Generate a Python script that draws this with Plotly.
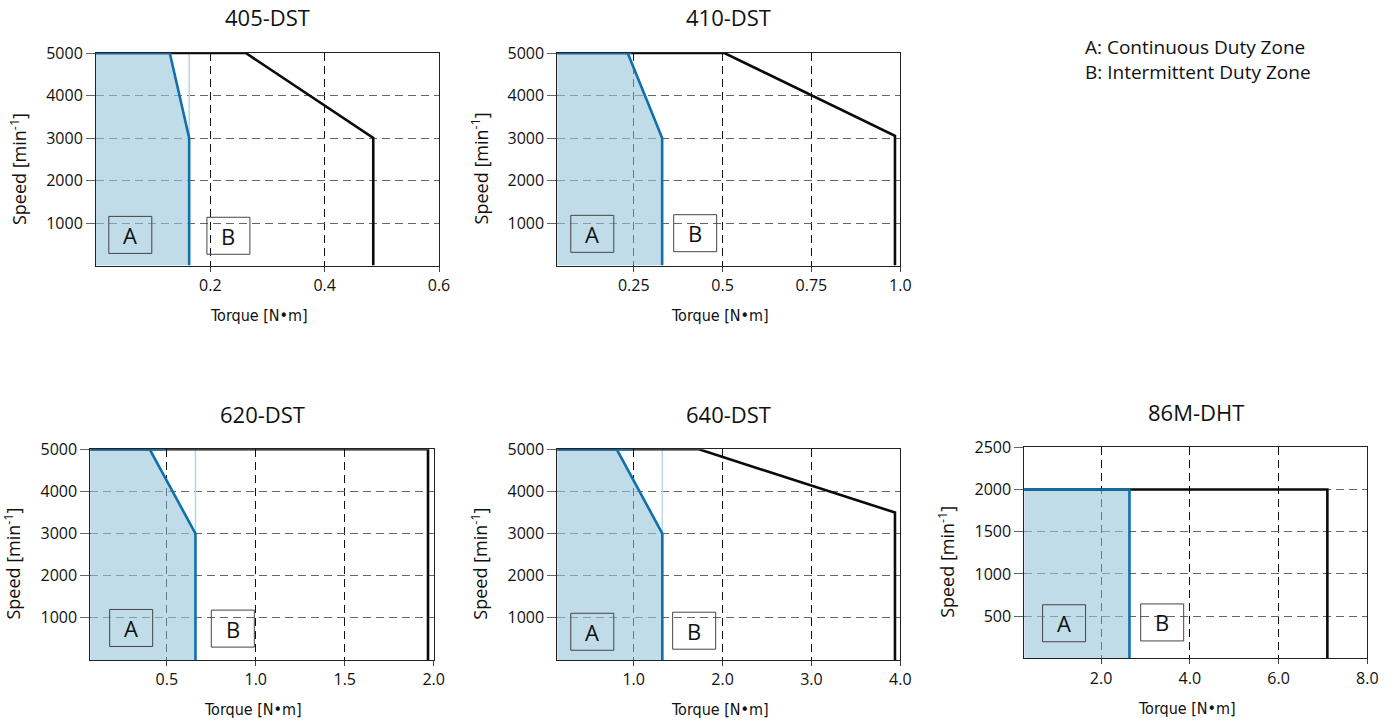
import plotly.graph_objects as go

# ---------------- data ----------------
titles = ["405-DST", "410-DST", "620-DST", "640-DST", "86M-DHT"]

x_ranges = [[0, 0.6], [0.035, 1.0], [0.07, 2.0], [0.14, 4.0], [0.27, 8.0]]
y_ranges = [[0, 5000], [0, 5000], [0, 5000], [0, 5000], [0, 2500]]

x_tickvals = [[0.2, 0.4, 0.6], [0.25, 0.5, 0.75, 1.0], [0.5, 1.0, 1.5, 2.0],
              [1.0, 2.0, 3.0, 4.0], [2.0, 4.0, 6.0, 8.0]]
x_ticktext = [["0.2", "0.4", "0.6"], ["0.25", "0.5", "0.75", "1.0"], ["0.5", "1.0", "1.5", "2.0"],
              ["1.0", "2.0", "3.0", "4.0"], ["2.0", "4.0", "6.0", "8.0"]]
y_tickvals = [[1000, 2000, 3000, 4000, 5000]] * 4 + [[500, 1000, 1500, 2000, 2500]]

# Continuous duty zone boundary (torque N·m, speed min^-1)
cont_torque = [
    [0, 0.129, 0.163, 0.163],
    [0, 0.233, 0.330, 0.330],
    [0, 0.404, 0.661, 0.661],
    [0, 0.809, 1.322, 1.322],
    [0, 2.64, 2.64],
]
cont_speed = [
    [5000, 5000, 3000, 0],
    [5000, 5000, 3000, 0],
    [5000, 5000, 3000, 0],
    [5000, 5000, 3000, 0],
    [2000, 2000, 0],
]
cont_top_end = [0.129, 0.244, 0.489, 0.98, 2.64]
show_faint_edge = [True, False, True, True, False]

# Intermittent duty zone boundary
inter_torque = [
    [0, 0.262, 0.485, 0.485],
    [0, 0.505, 0.985, 0.985],
    [0, 1.968, 1.968],
    [0, 1.735, 3.94, 3.94],
    [0, 7.10, 7.10],
]
inter_speed = [
    [5000, 5000, 3000, 0],
    [5000, 5000, 3050, 0],
    [5000, 5000, 0],
    [5000, 5000, 3500, 0],
    [2000, 2000, 0],
]

legend_lines = ["A: Continuous Duty Zone", "B: Intermittent Duty Zone"]
x_title = "Torque [N•m]"
y_title = "Speed [min<sup>-1</sup>]"
zone_labels = ["A", "B"]

# ---------------- layout (pixel geometry) ----------------
W, H = 1395, 725
panels_px = [  # left, right, top, bottom (window pixels)
    (96, 439, 53, 265.5),
    (557.3, 900.3, 53, 265.5),
    (90.3, 433.7, 449.3, 660),
    (557.3, 900.3, 449.3, 660),
    (1024.3, 1367.3, 447.3, 658.3),
]
box_pos = [  # (A x, A y, B x, B y) box centres in domain fractions
    (0.10, 0.144, 0.386, 0.14),
    (0.102, 0.149, 0.402, 0.152),
    (0.119, 0.152, 0.415, 0.149),
    (0.102, 0.134, 0.399, 0.139),
    (0.116, 0.166, 0.402, 0.17),
]
BOX_W, BOX_H = 43, 37  # px

FONT = "Open Sans"
NARROW = "DejaVu Sans Condensed, Liberation Sans Narrow, Liberation Sans"
FILL = "rgba(150,196,219,0.6)"
BLUE = "#1170AC"
FAINT = "#B8D6E8"
BLACK = "#0a0a0a"

fig = go.Figure()
annotations = []
shapes = []

for i in range(5):
    xa = "x" if i == 0 else f"x{i+1}"
    ya = "y" if i == 0 else f"y{i+1}"
    xref_dom = f"{xa} domain"
    yref_dom = f"{ya} domain"
    ymax = cont_speed[i][0]

    fig.add_trace(go.Scatter(
        x=cont_torque[i] + [0], y=cont_speed[i] + [0],
        fill="toself", fillcolor=FILL, mode="lines", line=dict(width=0),
        xaxis=xa, yaxis=ya, showlegend=False, hoverinfo="skip"))
    if show_faint_edge[i]:
        fig.add_trace(go.Scatter(
            x=[cont_torque[i][-1], cont_torque[i][-1]], y=[cont_speed[i][-2], ymax],
            mode="lines", line=dict(color=FAINT, width=1.5),
            xaxis=xa, yaxis=ya, showlegend=False, hoverinfo="skip"))
    fig.add_trace(go.Scatter(
        x=inter_torque[i], y=inter_speed[i], mode="lines",
        line=dict(color=BLACK, width=2.6), cliponaxis=False,
        xaxis=xa, yaxis=ya, showlegend=False))
    fig.add_trace(go.Scatter(
        x=cont_torque[i] + [None, cont_torque[i][1], cont_top_end[i]],
        y=cont_speed[i] + [None, ymax, ymax], mode="lines",
        line=dict(color=BLUE, width=2.6), cliponaxis=False,
        xaxis=xa, yaxis=ya, showlegend=False))

    l, r, t, b = panels_px[i]
    dom_x = [l / W, r / W]
    dom_y = [1 - b / H, 1 - t / H]
    axis_common = dict(showline=True, mirror=True, linecolor="#222", linewidth=1,
                       ticks="outside", zeroline=False, showgrid=True, gridwidth=1,
                       automargin=False,
                       tickfont=dict(family=FONT, size=16, color="#111"))
    fig.update_layout(**{
        ("xaxis" if i == 0 else f"xaxis{i+1}"): dict(
            axis_common, domain=dom_x, range=x_ranges[i], tickvals=x_tickvals[i],
            ticktext=x_ticktext[i], anchor=ya, gridcolor="#111", griddash="8px,5px",
            ticklen=5, tickcolor="#444"),
        ("yaxis" if i == 0 else f"yaxis{i+1}"): dict(
            axis_common, domain=dom_y, range=y_ranges[i], tickvals=y_tickvals[i],
            anchor=xa, gridcolor="#666", griddash="8px,5px",
            ticklen=9, tickcolor="#666"),
    })

    annotations.append(dict(text=titles[i], xref=xref_dom, yref=yref_dom, x=0.5, y=1.168,
                            xanchor="center", yanchor="middle", showarrow=False,
                            font=dict(family=FONT, size=22, color="#111")))
    annotations.append(dict(text=x_title, xref=xref_dom, yref=yref_dom, x=0.474, y=-0.236,
                            xanchor="center", yanchor="middle", showarrow=False,
                            font=dict(family=NARROW, size=16, color="#111")))
    annotations.append(dict(text=y_title, xref=xref_dom, yref=yref_dom, x=-0.226, y=0.456,
                            xanchor="center", yanchor="middle", showarrow=False, textangle=-90,
                            font=dict(family=FONT, size=18, color="#111")))

    hw = BOX_W / 2 / (r - l)
    hh = BOX_H / 2 / (b - t)
    ax_, ay_, bx_, by_ = box_pos[i]
    for lab, px, py in zip(zone_labels, (ax_, bx_), (ay_, by_)):
        shapes.append(dict(type="rect", xref=xref_dom, yref=yref_dom,
                           x0=px - hw, x1=px + hw, y0=py - hh, y1=py + hh,
                           line=dict(color="#444", width=1), fillcolor="rgba(0,0,0,0)",
                           layer="above"))
        annotations.append(dict(text=lab, xref=xref_dom, yref=yref_dom, x=px, y=py,
                                xanchor="center", yanchor="middle", showarrow=False,
                                font=dict(family=FONT, size=22, color="#111")))

annotations.append(dict(text="<br>".join(legend_lines), xref="paper", yref="paper",
                        x=1083 / W, y=1 - 59.5 / H,
                        xanchor="left", yanchor="middle", align="left", showarrow=False,
                        font=dict(family=FONT, size=19, color="#111")))

fig.update_layout(width=W, height=H, margin=dict(l=0, r=0, t=0, b=0, autoexpand=False),
                  paper_bgcolor="white", plot_bgcolor="white",
                  annotations=annotations, shapes=shapes, showlegend=False)

fig.write_html("out.html", config={"displayModeBar": False},
               post_script="document.body.style.margin='0';document.body.style.overflow='hidden';")
